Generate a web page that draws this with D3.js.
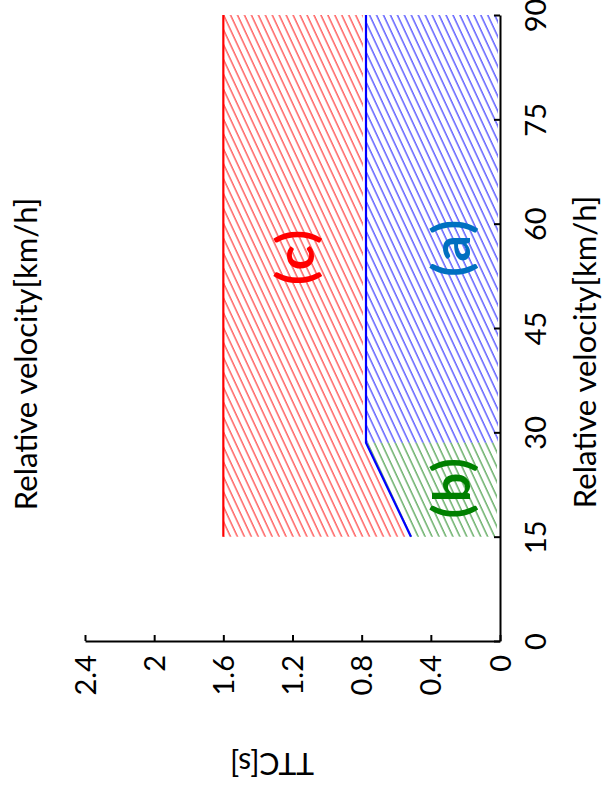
<!DOCTYPE html>
<html>
<head>
<meta charset="utf-8">
<script src="https://cdn.jsdelivr.net/npm/d3@7"></script>
<style>
  html, body { margin: 0; padding: 0; background: #fff; }
  svg { display: block; font-family: Lato, "Open Sans", sans-serif; }
</style>
</head>
<body>
<svg id="chart" width="604" height="796"></svg>
<script>
// ---- data ----
const velocityTicks = [0, 15, 30, 45, 60, 75, 90];
const ttcTicks = [0, 0.4, 0.8, 1.2, 1.6, 2.0, 2.4];
const ttcTickLabels = ["0", "0.4", "0.8", "1.2", "1.6", "2", "2.4"];
const boundaryVelocity = [15, 28.5, 90];
const boundaryTTC = [0.515, 0.775, 0.775];
const upperTTC = 1.6;
const kneeVelocity = 28.5;
const regionLabels = ["(a)", "(b)", "(c)"];
const regionLabelVelocity = [56.6, 22.1, 55.3];
const regionLabelTTC = [0.29, 0.29, 1.19];
const regionLabelColors = ["#0070c0", "#008000", "#ff0000"];

// ---- layout (chart drawn rotated: velocity runs upward, TTC runs leftward) ----
const svg = d3.select("#chart");
const v = d3.scaleLinear().domain([0, 90]).range([641, 15]);
const t = d3.scaleLinear().domain([0, 2.4]).range([500, 85]);

const boundary = boundaryVelocity.map((d, i) => ({ v: d, ttc: boundaryTTC[i] }));

// hatch patterns
const defs = svg.append("defs");
function hatch(id, color, op) {
  const p = defs.append("pattern")
    .attr("id", id)
    .attr("patternUnits", "userSpaceOnUse")
    .attr("width", 6.3).attr("height", 20)
    .attr("patternTransform", "rotate(-25)");
  p.append("line")
    .attr("x1", 1).attr("y1", 0).attr("x2", 1).attr("y2", 20)
    .attr("stroke", color).attr("stroke-width", 1.1).attr("stroke-opacity", op);
}
hatch("hatchRed", "#ff1010", 0.9);
hatch("hatchBlue", "#1010ff", 0.9);
hatch("hatchGreen", "#108010", 0.85);

// red region: between boundary and upper TTC
svg.append("path")
  .datum(boundary)
  .attr("fill", "url(#hatchRed)")
  .attr("d", d3.area().y(d => v(d.v)).x0(d => t(d.ttc) - 3).x1(t(upperTTC)));

// blue region
const bluePts = boundary.filter(d => d.v >= kneeVelocity);
svg.append("path")
  .datum(bluePts)
  .attr("fill", "url(#hatchBlue)")
  .attr("d", d3.area().y(d => v(d.v)).x0(t(0) - 2).x1(d => t(d.ttc)));

// green region
const greenPts = boundary.filter(d => d.v <= kneeVelocity);
svg.append("path")
  .datum(greenPts)
  .attr("fill", "url(#hatchGreen)")
  .attr("d", d3.area().y(d => v(d.v)).x0(t(0) - 3).x1(d => t(d.ttc)));

// boundary lines
svg.append("path")
  .datum(boundary)
  .attr("fill", "none").attr("stroke", "#0000ff").attr("stroke-width", 2.2)
  .attr("d", d3.line().x(d => t(d.ttc)).y(d => v(d.v)));
svg.append("path")
  .datum([{ v: 15 }, { v: 90 }])
  .attr("fill", "none").attr("stroke", "#ff0000").attr("stroke-width", 2.2)
  .attr("d", d3.line().x(() => t(upperTTC)).y(d => v(d.v)));

// axes
const axR = svg.append("g").attr("transform", `translate(${t(0)},0)`)
  .call(d3.axisRight(v).tickValues(velocityTicks).tickSizeInner(-6).tickSizeOuter(0));
const axB = svg.append("g").attr("transform", `translate(0,${v(0)})`)
  .call(d3.axisBottom(t).tickValues(ttcTicks).tickSizeInner(-6).tickSizeOuter(0)
    .tickFormat((d, i) => ttcTickLabels[i]));

[axR, axB].forEach(ax => {
  ax.select(".domain").attr("stroke", "#000").attr("stroke-width", 2);
  ax.selectAll(".tick line").attr("stroke", "#000").attr("stroke-width", 2);
  ax.selectAll(".tick text").attr("fill", "#000")
    .style("font-family", "Lato, 'Open Sans', sans-serif").style("font-size", "29px");
});
axR.selectAll(".tick text")
  .attr("x", 0).attr("y", 0).attr("dy", 0)
  .attr("text-anchor", "middle")
  .attr("transform", "translate(46,0) rotate(-90)");
axB.selectAll(".tick text")
  .attr("x", 0).attr("y", 0).attr("dy", "0.35em")
  .attr("text-anchor", "end")
  .attr("transform", "translate(0,14) rotate(-90)");

// axis titles
svg.append("text")
  .attr("transform", "translate(596,352) rotate(-90)")
  .attr("text-anchor", "middle").style("font-size", "31px").attr("fill", "#000")
  .text("Relative velocity[km/h]");
svg.append("text")
  .attr("transform", "translate(37,354) rotate(-90)")
  .attr("text-anchor", "middle").style("font-size", "31px").attr("fill", "#000")
  .text("Relative velocity[km/h]");
svg.append("text")
  .attr("transform", "translate(272,765) rotate(180)")
  .attr("text-anchor", "middle").attr("dominant-baseline", "central")
  .style("font-size", "30px").attr("fill", "#000")
  .text("TTC[s]");

// region labels
regionLabels.forEach((lab, i) => {
  svg.append("text")
    .attr("transform", `translate(${t(regionLabelTTC[i])},${v(regionLabelVelocity[i])}) rotate(-90)`)
    .attr("text-anchor", "middle").attr("dominant-baseline", "central")
    .style("font-size", "52px").style("font-weight", "bold")
    .style("letter-spacing", "2px")
    .attr("fill", regionLabelColors[i])
    .text(lab);
});
</script>
</body>
</html>
